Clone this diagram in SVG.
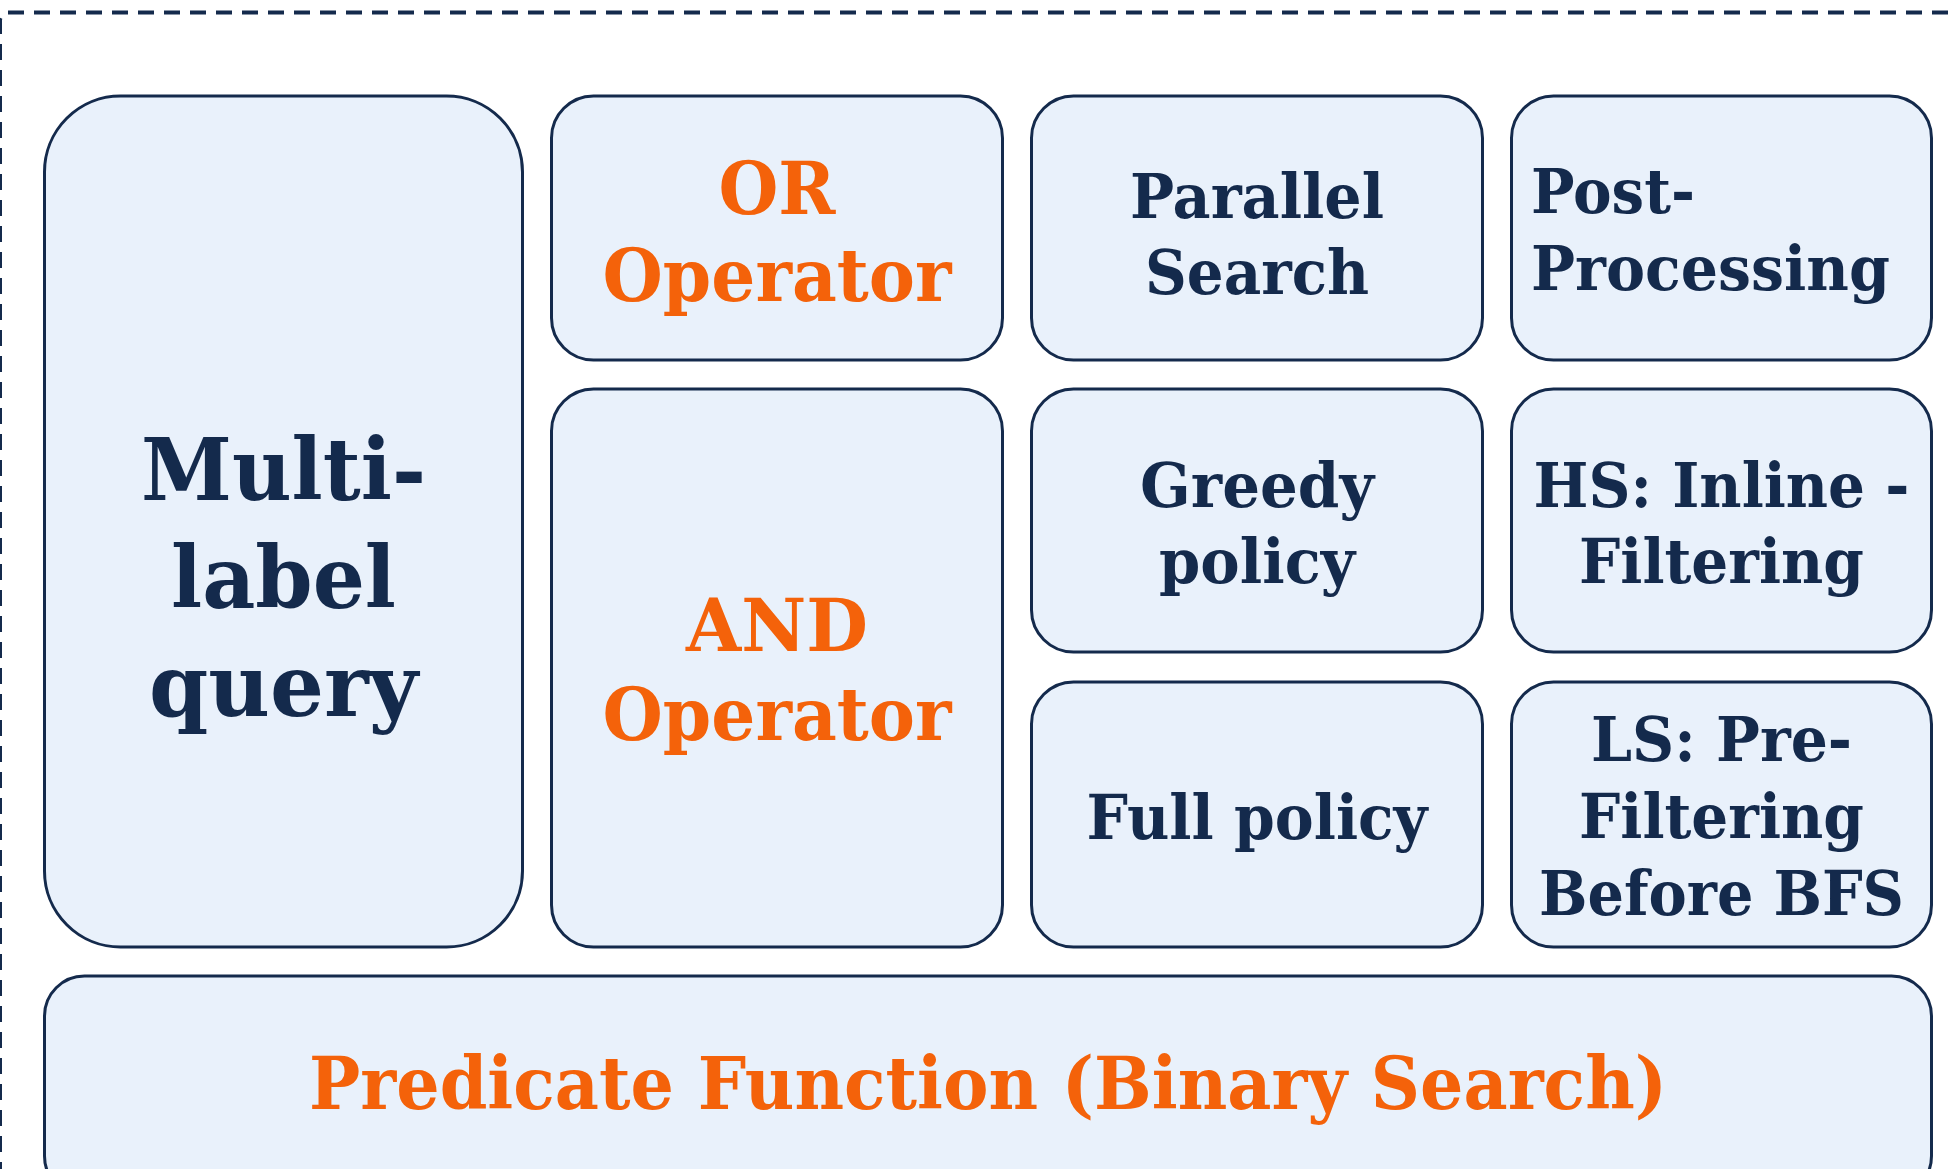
<svg xmlns="http://www.w3.org/2000/svg" width="1953" height="1169" viewBox="0 0 1953 1169">
<style>
.frame{fill:none;stroke:#142A4C;stroke-width:4;stroke-dasharray:16 10}
.box{fill:#E9F1FB;stroke:#142A4C;stroke-width:3}
text{font-family:"DejaVu Serif","Liberation Serif",serif;font-weight:bold;text-anchor:middle}
.dk{fill:#142A4C;font-size:62px}
.or{fill:#F4620A;font-size:72px}
.big{fill:#142A4C;font-size:86px}
</style>
<rect width="1953" height="1169" fill="#FFFFFF"/>
<rect class="frame" x="0" y="12.5" width="2010" height="1260" rx="8"/>
<g id="connectors"></g>
<g id="node-multilabel">
<rect class="box" x="44.5" y="96" width="478" height="851" rx="76"/>
<text class="big" x="283.5" y="500" textLength="285" lengthAdjust="spacingAndGlyphs">Multi-</text>
<text class="big" x="283.5" y="608" textLength="225" lengthAdjust="spacingAndGlyphs">label</text>
<text class="big" x="283.5" y="716" textLength="269" lengthAdjust="spacingAndGlyphs">query</text>
</g>
<g id="node-or">
<rect class="box" x="551.5" y="96" width="451" height="264" rx="42"/>
<text class="or" x="777" y="214" textLength="117" lengthAdjust="spacingAndGlyphs">OR</text>
<text class="or" x="777" y="301" textLength="349" lengthAdjust="spacingAndGlyphs">Operator</text>
</g>
<g id="node-and">
<rect class="box" x="551.5" y="389" width="451" height="558" rx="42"/>
<text class="or" x="777" y="651" textLength="182" lengthAdjust="spacingAndGlyphs">AND</text>
<text class="or" x="777" y="740" textLength="349" lengthAdjust="spacingAndGlyphs">Operator</text>
</g>
<g id="node-parallel">
<rect class="box" x="1031.5" y="96" width="451" height="264" rx="42"/>
<text class="dk" x="1257" y="218" textLength="254" lengthAdjust="spacingAndGlyphs">Parallel</text>
<text class="dk" x="1257" y="294" textLength="224" lengthAdjust="spacingAndGlyphs">Search</text>
</g>
<g id="node-greedy">
<rect class="box" x="1031.5" y="389" width="451" height="263" rx="42"/>
<text class="dk" x="1257" y="507" textLength="234" lengthAdjust="spacingAndGlyphs">Greedy</text>
<text class="dk" x="1257" y="583" textLength="196" lengthAdjust="spacingAndGlyphs">policy</text>
</g>
<g id="node-full">
<rect class="box" x="1031.5" y="682" width="451" height="265" rx="42"/>
<text class="dk" x="1257" y="839" textLength="341" lengthAdjust="spacingAndGlyphs">Full policy</text>
</g>
<g id="node-post">
<rect class="box" x="1511.5" y="96" width="420" height="264" rx="42"/>
<text class="dk" x="1531" y="213" style="text-anchor:start" textLength="164" lengthAdjust="spacingAndGlyphs">Post-</text>
<text class="dk" x="1531" y="290" style="text-anchor:start" textLength="359" lengthAdjust="spacingAndGlyphs">Processing</text>
</g>
<g id="node-hs">
<rect class="box" x="1511.5" y="389" width="420" height="263" rx="42"/>
<text class="dk" x="1721.5" y="507" textLength="376" lengthAdjust="spacingAndGlyphs">HS: Inline -</text>
<text class="dk" x="1721.5" y="583" textLength="285" lengthAdjust="spacingAndGlyphs">Filtering</text>
</g>
<g id="node-ls">
<rect class="box" x="1511.5" y="682" width="420" height="265" rx="42"/>
<text class="dk" x="1721.5" y="761" textLength="261" lengthAdjust="spacingAndGlyphs">LS: Pre-</text>
<text class="dk" x="1721.5" y="838" textLength="285" lengthAdjust="spacingAndGlyphs">Filtering</text>
<text class="dk" x="1721.5" y="915" textLength="365" lengthAdjust="spacingAndGlyphs">Before BFS</text>
</g>
<g id="node-predicate">
<rect class="box" x="44.5" y="976" width="1887" height="220" rx="40"/>
<text class="or" x="988" y="1109" textLength="1358" lengthAdjust="spacingAndGlyphs">Predicate Function (Binary Search)</text>
</g>
</svg>
